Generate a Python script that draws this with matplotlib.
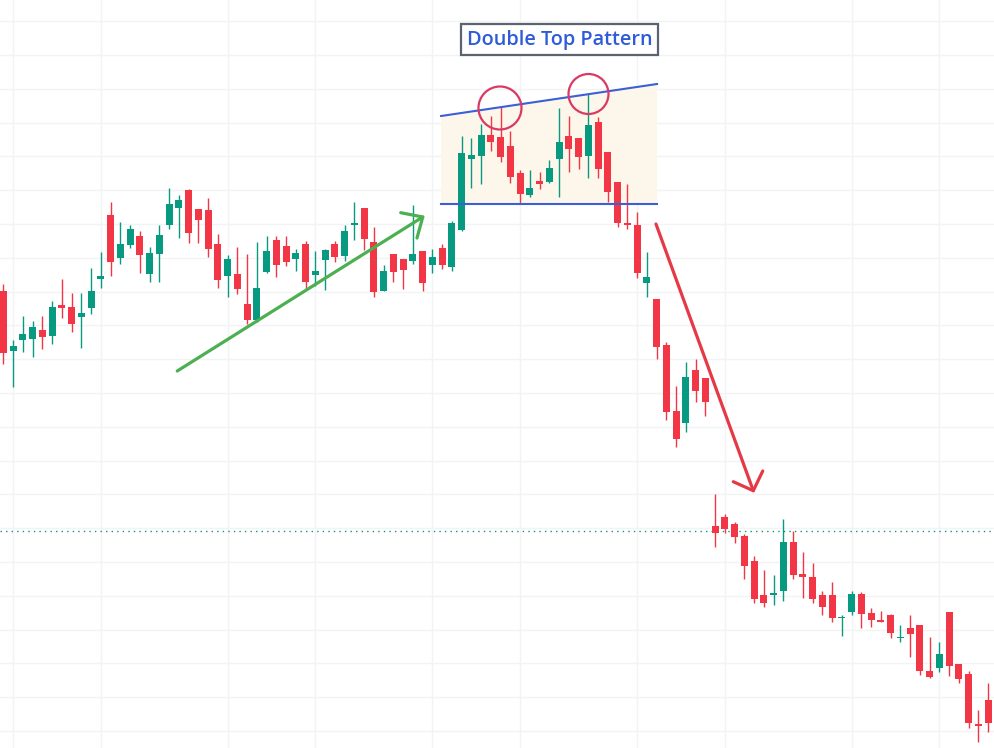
import matplotlib
matplotlib.use("Agg")
import matplotlib.pyplot as plt
from matplotlib.patches import Ellipse
import numpy as np

# daily OHLC (arbitrary price units)
opens = [150.9, 144.9, 146.0, 146.1, 147.0, 146.4, 149.5, 149.3, 148.3, 149.2,
         152.1, 158.5, 154.2, 155.5, 156.4, 152.6, 154.6, 157.5, 159.2, 161.0,
         159.1, 159.0, 155.6, 152.4, 152.6, 149.6, 148.0, 152.8, 156.0, 155.4,
         154.1, 155.6, 152.5, 154.0, 155.6, 154.4, 157.5, 159.2, 155.8, 150.9,
         154.6, 154.1, 153.9, 154.9, 153.5, 155.2, 153.3, 157.0, 164.1, 164.4,
         166.5, 166.3, 165.4, 162.7, 160.5, 161.9, 161.8, 164.1, 166.4, 166.2,
         164.4, 167.8, 164.8, 161.8, 157.7, 157.5, 151.7, 150.1, 145.5, 138.9,
         137.7, 143.0, 142.2, 127.4, 128.3, 127.6, 126.4, 123.9, 120.5, 120.5,
         120.9, 125.8, 122.6, 122.3, 120.5, 120.5, 118.2, 118.8, 120.6, 118.7,
         118.0, 118.5, 116.2, 117.2, 117.5, 112.9, 113.2, 118.8, 113.6, 112.6,
         107.6, 110.0]
highs = [151.6, 146.0, 148.4, 147.9, 148.4, 149.9, 152.1, 150.7, 150.7, 153.2,
         154.8, 159.8, 157.8, 157.5, 156.9, 155.3, 157.5, 161.2, 160.5, 161.1,
         159.1, 160.2, 156.6, 154.5, 155.3, 154.6, 155.8, 156.4, 156.4, 156.4,
         155.1, 155.9, 154.9, 155.1, 155.9, 157.5, 159.8, 159.2, 157.3, 153.5,
         154.6, 154.1, 159.5, 154.9, 155.1, 155.6, 157.9, 166.4, 166.2, 167.6,
         168.4, 169.3, 166.9, 163.0, 163.0, 162.8, 164.0, 169.2, 168.4, 166.2,
         170.6, 168.3, 164.8, 161.8, 161.6, 158.8, 154.8, 150.1, 145.8, 141.4,
         143.8, 144.1, 142.2, 130.6, 128.6, 127.8, 126.6, 124.4, 123.0, 122.5,
         128.1, 126.9, 124.8, 123.7, 120.9, 121.8, 118.5, 120.9, 120.8, 119.2,
         118.9, 118.6, 117.5, 118.5, 117.5, 116.3, 115.8, 118.8, 113.6, 112.9,
         109.0, 111.7]
lows = [143.6, 141.3, 144.8, 144.3, 145.1, 145.6, 148.2, 146.8, 145.2, 148.6,
        151.2, 152.4, 153.6, 155.2, 152.7, 151.8, 151.8, 157.1, 156.2, 155.7,
        155.7, 154.3, 151.2, 150.3, 150.6, 147.6, 147.8, 152.7, 152.3, 153.4,
        152.9, 151.1, 151.4, 151.0, 153.8, 153.9, 156.0, 155.0, 150.3, 150.9,
        151.8, 151.1, 153.6, 150.9, 152.7, 153.1, 152.9, 156.9, 161.2, 161.6,
        164.9, 163.8, 161.7, 159.6, 160.3, 161.1, 161.7, 160.3, 162.8, 163.1,
        162.2, 162.2, 159.8, 157.3, 157.1, 152.2, 150.3, 144.1, 138.0, 135.3,
        136.8, 139.8, 138.4, 125.3, 126.7, 125.7, 122.1, 119.7, 119.3, 119.5,
        119.9, 122.1, 120.2, 119.7, 118.5, 117.8, 116.4, 118.5, 117.2, 117.3,
        117.8, 116.2, 115.8, 114.3, 112.5, 112.2, 112.8, 112.4, 111.7, 107.2,
        105.8, 106.8]
closes = [144.7, 145.4, 146.6, 147.3, 146.3, 149.3, 149.2, 147.6, 148.7, 150.9,
          152.4, 153.8, 155.6, 157.1, 154.5, 154.7, 156.5, 159.6, 160.0, 156.7,
          158.0, 155.1, 152.0, 154.1, 151.1, 148.0, 151.2, 154.9, 153.5, 153.8,
          154.7, 151.8, 152.9, 155.0, 154.3, 156.9, 157.6, 156.1, 150.8, 152.9,
          152.8, 153.0, 154.6, 151.7, 154.3, 153.5, 157.7, 164.7, 164.5, 166.5,
          165.8, 164.3, 162.3, 160.6, 161.2, 161.6, 163.2, 165.8, 165.1, 164.3,
          167.5, 163.1, 160.8, 157.7, 157.5, 152.7, 152.3, 145.3, 138.8, 136.1,
          142.3, 140.9, 139.8, 126.7, 127.1, 126.3, 123.4, 120.1, 119.7, 120.7,
          125.8, 122.5, 122.3, 120.1, 119.3, 118.2, 118.3, 120.6, 118.6, 118.0,
          117.8, 116.7, 116.3, 116.6, 112.9, 112.3, 114.6, 113.4, 112.1, 107.7,
          107.4, 107.7]

last_price = 126.9
month_starts = [1, 10, 23, 32, 44, 53, 65, 74, 87, 96]

# drawing anchors (bar index, price)
box_x = [44.9, 67.05]
neckline = 159.6
top_line = [168.4, 171.6]
peaks = [(50.94, 169.2), (60.02, 170.6)]
up_arrow = [(17.84, 142.9), (43.02, 158.3)]
up_head = [(40.76, 158.73), (43.02, 158.3), (42.43, 156.2)]
down_arrow = [(66.94, 157.6), (76.92, 130.93)]
down_head = [(74.87, 131.83), (76.92, 130.93), (77.89, 132.9)]

UP = '#089981'
DOWN = '#f23645'

fig = plt.figure(figsize=(9.94, 7.48), dpi=100)
ax = fig.add_axes([0, 0, 1, 1])
ax.set_xlim(-0.34, 101.61)
ax.set_ylim(105.2, 180)

# faint grid
for gx in month_starts:
    ax.axvline(gx, color='#f2f3f5', lw=1, zorder=0)
for gy in np.arange(177.87, 104, -3.38):
    ax.axhline(gy, color='#f2f3f5', lw=1, zorder=0)

# pattern zone, up to the sloped top line
ax.fill_between(box_x, [neckline, neckline], top_line, facecolor='#fdf6ea',
                edgecolor='none', zorder=1)

o = np.array(opens)
h = np.array(highs)
l = np.array(lows)
c = np.array(closes)
idx = np.arange(len(o))
col = np.where(c >= o, UP, DOWN)
ax.vlines(idx, l, h, colors=col, lw=1, zorder=3)
bottom = np.minimum(o, c)
height = np.maximum(np.abs(c - o), 0.15)
ax.bar(idx, height, bottom=bottom, width=0.72, color=col, linewidth=0, zorder=4)

ax.axhline(last_price, color=UP, lw=1, ls=(0, (1, 3)), zorder=2)

# double top markup
ax.plot(box_x, top_line, color='#3a5fd6', lw=1.5, zorder=5)
ax.plot(box_x, [neckline, neckline], color='#3a5fd6', lw=1.5, zorder=5)
for (px, py), w in zip(peaks, [4.41, 4.1]):
    ax.add_patch(Ellipse((px, py), w, w * 9.75 / 10, fill=False,
                         edgecolor='#d93a63', lw=1.6, zorder=6))

for line, head, clr in [(up_arrow, up_head, '#4caf50'), (down_arrow, down_head, '#e63946')]:
    ax.plot(*zip(*line), color=clr, lw=2.3, solid_capstyle='round', zorder=6)
    ax.plot(*zip(*head), color=clr, lw=2.3, solid_capstyle='round',
            solid_joinstyle='round', zorder=6)

ax.text(57.05, 176.05, 'Double Top Pattern', ha='center', va='center',
        fontsize=14.3, fontweight='semibold', family=['Open Sans', 'DejaVu Sans'],
        color='#2f5bd8', zorder=7,
        bbox=dict(boxstyle='square,pad=0.28', facecolor='white', edgecolor='#5b6270', lw=1.6))

ax.axis('off')
fig.savefig('out.png', dpi=100, facecolor='white')
